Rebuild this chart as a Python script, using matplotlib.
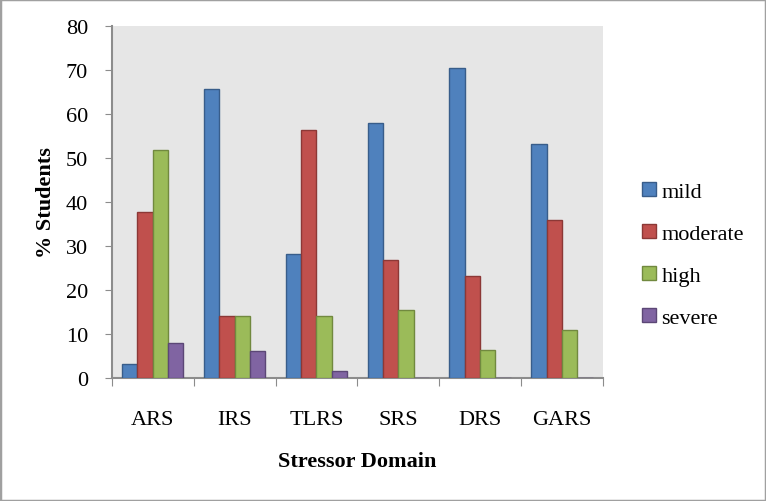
import numpy as np
import matplotlib.pyplot as plt
from matplotlib.patches import Rectangle

# --- Datos ---
dominios = ['ARS', 'IRS', 'TLRS', 'SRS', 'DRS', 'GARS']
niveles = ['mild', 'moderate', 'high', 'severe']
mild = [3.2, 65.8, 28.2, 57.9, 70.5, 53.3]
moderate = [37.7, 14.1, 56.3, 26.8, 23.3, 36.0]
high = [51.8, 14.1, 14.1, 15.5, 6.4, 11.0]
severe = [8.0, 6.2, 1.7, 0.0, 0.0, 0.0]

colores = ['#4F81BD', '#C0504D', '#9BBB59', '#8064A2']
bordes = ['#385D8A', '#8C3836', '#71893F', '#5C4776']

plt.rcParams['font.family'] = ['Liberation Serif', 'DejaVu Serif']

fig = plt.figure(figsize=(7.66, 5.02), dpi=100)
ax = fig.add_axes([0.146, 0.245, 0.641, 0.701])
ax.set_facecolor('#E6E6E6')

x = np.arange(len(dominios))
ancho = 0.187
series = [mild, moderate, high, severe]
for i, valores in enumerate(series):
    pos = x - 1.5 * ancho + i * ancho
    ax.bar(pos, valores, width=ancho, color=colores[i], edgecolor=bordes[i],
           linewidth=1.0, label=niveles[i], zorder=3)

ax.set_xlim(-0.5, len(dominios) - 0.5)
ax.set_ylim(0, 80)
ax.set_yticks(range(0, 81, 10))
ax.tick_params(axis='y', labelsize=16, length=5, color='#8C8C8C', pad=12)

# ticks del eje x entre grupos, etiquetas centradas
ax.set_xticks(np.arange(-0.5, len(dominios), 1.0))
ax.set_xticklabels([])
ax.set_xticks(x, minor=True)
ax.set_xticklabels(dominios, minor=True, fontsize=16)
ax.tick_params(axis='x', which='major', length=6, color='#8C8C8C')
ax.tick_params(axis='x', which='minor', length=0, pad=23)

for lado in ['top', 'right']:
    ax.spines[lado].set_visible(False)
for lado in ['left', 'bottom']:
    ax.spines[lado].set_color('#8C8C8C')
    ax.spines[lado].set_linewidth(1.5)

ax.set_xlabel('Stressor Domain', fontsize=16, fontweight='bold', labelpad=16)
ax.set_ylabel('% Students', fontsize=16, fontweight='bold', labelpad=7)

ax.legend(loc='center left', bbox_to_anchor=(1.04, 0.35), frameon=False,
          fontsize=16, labelspacing=1.0, handlelength=0.6, handleheight=0.6,
          handletextpad=0.25)

# marco exterior
fig.patches.append(Rectangle((0, 0), 1, 1, transform=fig.transFigure,
                             fill=False, edgecolor='#A0A0A0', linewidth=2.5))

fig.savefig('out.png', dpi=100)
